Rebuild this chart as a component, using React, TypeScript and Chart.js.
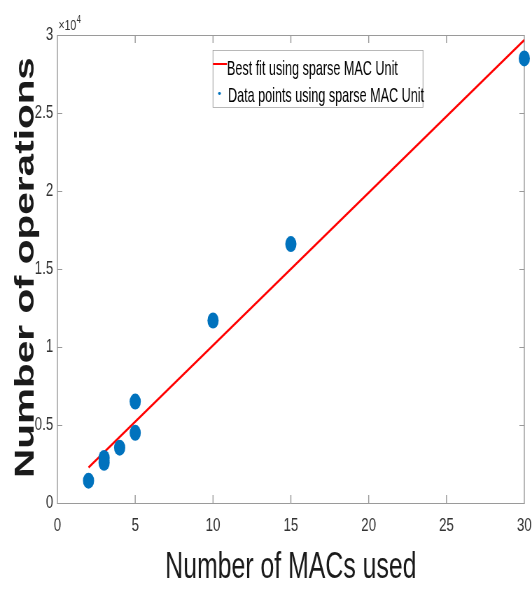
import React, { useEffect, useRef } from "react";
import { Chart, registerables } from "chart.js";

Chart.register(...registerables);

// ---- data ----
const macCounts = [2, 3, 3, 4, 5, 5, 10, 15, 30];
const operationCounts = [1430, 2580, 2890, 3545, 4500, 6500, 11700, 16600, 28500];
const fitX = [2, 30];
const fitY = [2270, 29680];
const xRange = [0, 30];
const yRange = [0, 30000];
const xStep = 5;
const yStep = 5000;
const yExponentDivisor = 10000;
const exponentBase = "×10";
const exponentPower = "4";
const xTitle = "Number of MACs used";
const yTitle = "Number of operations";
const fitLabel = "Best fit using sparse MAC Unit";
const pointLabel = "Data points using sparse MAC Unit";

// ---- style ----
const S = 0.7; // horizontal squeeze of the whole figure
const W = 532;
const H = 589;
const CW = Math.round(W / S);
const FONT = '"Liberation Sans", Arial, Helvetica, sans-serif';
const AXIS = "#9a9a9a";
const TICK_TEXT = "#333333";
const BLUE = "#0072bd";
const RED = "#ff0000";

function screenText(
  ctx: CanvasRenderingContext2D,
  text: string,
  x: number,
  y: number,
  font: string,
  cond: number,
  align: CanvasTextAlign,
  color: string,
  rotate = false
) {
  ctx.save();
  ctx.scale(1 / S, 1);
  ctx.translate(x, y);
  ctx.scale(cond, 1);
  if (rotate) ctx.rotate(-Math.PI / 2);
  ctx.font = font;
  ctx.fillStyle = color;
  ctx.textAlign = align;
  ctx.textBaseline = "alphabetic";
  ctx.fillText(text, 0, 0);
  ctx.restore();
}

const framePlugin = {
  id: "frame",
  beforeDatasetsDraw(chart: any) {
    const { ctx, chartArea: a, scales } = chart;
    ctx.save();
    ctx.strokeStyle = AXIS;
    ctx.lineWidth = 1;
    ctx.beginPath();
    ctx.moveTo(a.left, a.top + 0.5);
    ctx.lineTo(a.right, a.top + 0.5);
    ctx.moveTo(a.left, a.bottom + 0.5);
    ctx.lineTo(a.right, a.bottom + 0.5);
    for (const t of scales.y.ticks) {
      const py = Math.round(scales.y.getPixelForValue(t.value)) + 0.5;
      ctx.moveTo(a.left, py);
      ctx.lineTo(a.left + 7, py);
      ctx.moveTo(a.right, py);
      ctx.lineTo(a.right - 7, py);
    }
    ctx.stroke();
    ctx.lineWidth = 1 / S;
    ctx.beginPath();
    ctx.moveTo(a.left, a.top);
    ctx.lineTo(a.left, a.bottom + 1);
    ctx.moveTo(a.right, a.top);
    ctx.lineTo(a.right, a.bottom + 1);
    for (const t of scales.x.ticks) {
      const px = scales.x.getPixelForValue(t.value);
      ctx.moveTo(px, a.bottom);
      ctx.lineTo(px, a.bottom - 8);
      ctx.moveTo(px, a.top);
      ctx.lineTo(px, a.top + 8);
    }
    ctx.stroke();
    ctx.restore();
  },
};

const textPlugin = {
  id: "texts",
  afterDraw(chart: any) {
    const { ctx, chartArea: a } = chart;
    const left = a.left * S;
    const right = a.right * S;
    screenText(ctx, xTitle, (left + right) / 2, 578, `36px ${FONT}`, 0.69, "center", "#1a1a1a");
    screenText(ctx, yTitle, 33.5, (a.top + a.bottom) / 2 - 1.5, `bold 40.5px ${FONT}`, 0.68, "center", "#1a1a1a", true);
    ctx.save();
    ctx.font = `15px ${FONT}`;
    const bw = ctx.measureText(exponentBase).width * 0.7;
    ctx.restore();
    screenText(ctx, exponentBase, left + 1, 30, `15px ${FONT}`, 0.7, "left", TICK_TEXT);
    screenText(ctx, exponentPower, left + 1 + bw + 0.5, 23, `11px ${FONT}`, 0.7, "left", TICK_TEXT);

    ctx.save();
    ctx.scale(1 / S, 1);
    ctx.fillStyle = "#ffffff";
    ctx.fillRect(213, 50, 210, 57);
    ctx.strokeStyle = AXIS;
    ctx.lineWidth = S;
    ctx.strokeRect(213, 50.5, 210, 57);
    ctx.strokeStyle = RED;
    ctx.lineWidth = 2;
    ctx.beginPath();
    ctx.moveTo(213, 64);
    ctx.lineTo(227, 64);
    ctx.stroke();
    ctx.fillStyle = BLUE;
    ctx.beginPath();
    ctx.arc(219.5, 93.5, 1.4, 0, Math.PI * 2);
    ctx.fill();
    ctx.restore();
    screenText(ctx, fitLabel, 227, 74.5, `21px ${FONT}`, 0.6, "left", "#000000");
    screenText(ctx, pointLabel, 228, 102, `21px ${FONT}`, 0.6, "left", "#000000");
  },
};

export default function App() {
  const ref = useRef<HTMLCanvasElement | null>(null);
  useEffect(() => {
    if (!ref.current) return;
    const chart = new Chart(ref.current, {
      type: "scatter",
      data: {
        datasets: [
          {
            label: fitLabel,
            data: fitX.map((x, i) => ({ x, y: fitY[i] })),
            showLine: true,
            borderColor: RED,
            backgroundColor: RED,
            borderWidth: 2.4,
            pointRadius: 0,
            pointHoverRadius: 0,
            order: 2,
          } as any,
          {
            label: pointLabel,
            data: macCounts.map((x, i) => ({ x, y: operationCounts[i] })),
            backgroundColor: BLUE,
            borderColor: BLUE,
            borderWidth: 0,
            pointRadius: 8,
            pointHoverRadius: 8,
            clip: false,
            order: 1,
          } as any,
        ],
      },
      options: {
        responsive: false,
        animation: false,
        devicePixelRatio: 1,
        events: [],
        layout: { padding: { left: 0, right: 11, top: 35, bottom: 0 } },
        plugins: {
          legend: { display: false },
          tooltip: { enabled: false },
          title: { display: false },
        },
        scales: {
          x: {
            type: "linear",
            position: "bottom",
            min: xRange[0],
            max: xRange[1],
            grid: { display: false, drawTicks: false },
            border: { display: false },
            ticks: {
              stepSize: xStep,
              padding: 11,
              color: TICK_TEXT,
              font: { family: FONT, size: 19 },
              maxRotation: 0,
              autoSkip: false,
            },
            afterFit: (s: any) => {
              s.height = 86;
              s.paddingLeft = 0;
              s.paddingRight = 0;
            },
          },
          y: {
            type: "linear",
            position: "left",
            min: yRange[0],
            max: yRange[1],
            grid: { display: false, drawTicks: false },
            border: { display: false },
            ticks: {
              stepSize: yStep,
              padding: 6,
              color: TICK_TEXT,
              font: { family: FONT, size: 19 },
              callback: (v: any) => String(Number(v) / yExponentDivisor),
            },
            afterFit: (s: any) => {
              s.width = 82;
              s.paddingTop = 0;
              s.paddingBottom = 0;
            },
          },
        },
      } as any,
      plugins: [framePlugin, textPlugin],
    });
    return () => chart.destroy();
  }, []);
  return (
    <div style={{ position: "fixed", left: 0, top: 0, width: W, height: H, background: "#fff" }}>
      <canvas ref={ref} width={CW} height={H} style={{ width: `${W}px`, height: `${H}px` }} />
    </div>
  );
}
